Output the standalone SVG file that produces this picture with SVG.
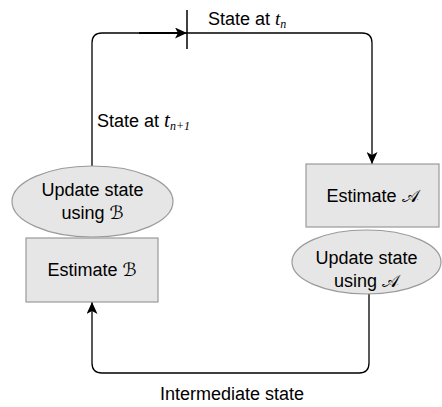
<svg xmlns="http://www.w3.org/2000/svg" width="442" height="407" viewBox="0 0 442 407">
<style>
.box{fill:#e6e6e6;stroke:#9a9a9a;stroke-width:1.2}
.t{font-family:"Liberation Sans",Arial,sans-serif;font-size:18px;fill:#000}
.m{font-family:"Liberation Serif","DejaVu Serif",serif;font-style:italic}
.c{font-family:"DejaVu Serif","DejaVu Sans",serif}
.e{fill:none;stroke:#000;stroke-width:1.3}
</style>
<defs>
<marker id="ah" markerWidth="12" markerHeight="11" refX="12" refY="5.5" orient="auto" markerUnits="userSpaceOnUse">
<path d="M0,0 L12,5.5 L0,11 L3,5.5 z" fill="#000"/>
</marker>
</defs>
<rect width="442" height="407" fill="#fff"/>
<g id="connectors">
<path class="e" d="M92,166 V43 Q92,33 102,33 H187" marker-end="url(#ah)"/>
<line x1="139" y1="33" x2="178" y2="33" stroke="#000" stroke-width="2"/>
<line x1="187" y1="10" x2="187" y2="49" stroke="#000" stroke-width="1.5"/>
<path class="e" d="M187,33 H362 Q372,33 372,43 V164" marker-end="url(#ah)"/>
<path class="e" d="M369,293 V363 Q369,373 359,373 H102 Q92,373 92,363 V302" marker-end="url(#ah)"/>
</g>
<g id="label-tn"><text class="t" x="208" y="25" font-size="16">State at <tspan class="m" font-size="19">t</tspan><tspan class="m" font-size="12" dy="3">n</tspan></text></g>
<g id="label-tn1"><text class="t" x="97" y="127">State at <tspan class="m" font-size="21">t</tspan><tspan class="m" font-size="12" dy="3">n+1</tspan></text></g>
<g id="label-inter"><text class="t" x="232" y="400" text-anchor="middle">Intermediate state</text></g>
<g id="estA">
<rect class="box" x="306" y="164" width="133" height="63"/>
<text class="t" x="372.5" y="202" text-anchor="middle">Estimate <tspan class="c">𝒜</tspan></text>
</g>
<g id="updA">
<ellipse class="box" cx="366.5" cy="262" rx="74.5" ry="32"/>
<text class="t" x="366.5" y="264" text-anchor="middle">Update state</text>
<text class="t" x="366.5" y="287" text-anchor="middle">using <tspan class="c">𝒜</tspan></text>
</g>
<g id="updB">
<ellipse class="box" cx="92.5" cy="201.5" rx="80.5" ry="35.5"/>
<text class="t" x="92.5" y="196" text-anchor="middle">Update state</text>
<text class="t" x="92.5" y="219" text-anchor="middle">using <tspan class="c">ℬ</tspan></text>
</g>
<g id="estB">
<rect class="box" x="26" y="238" width="132" height="64"/>
<text class="t" x="92" y="276" text-anchor="middle">Estimate <tspan class="c">ℬ</tspan></text>
</g>
</svg>
